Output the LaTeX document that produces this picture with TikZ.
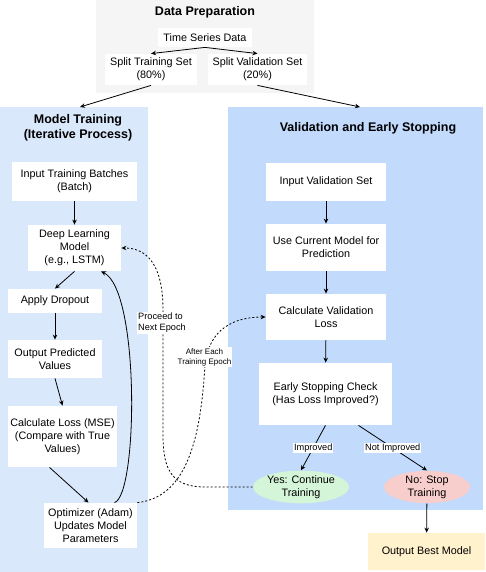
\documentclass[tikz,border=0pt]{standalone}
\usepackage{fontspec}
\setmainfont{Liberation Sans}
\usetikzlibrary{shapes.geometric,arrows.meta}

\definecolor{prepgray}{HTML}{F5F5F5}
\definecolor{trainblue}{HTML}{DAE8FC}
\definecolor{valblue}{HTML}{C2DAFC}
\definecolor{yesgreen}{HTML}{D5F5D8}
\definecolor{nored}{HTML}{F8CECC}
\definecolor{bestyellow}{HTML}{FFF2CC}

\begin{document}
\begin{tikzpicture}[x=1pt,y=-1pt,line width=0.8pt,
  >={Stealth[length=5pt,width=4.5pt]},
  box/.style={fill=white,align=center,inner sep=0pt,font=\fontsize{10.8}{13}\selectfont},
  oval/.style={ellipse,align=center,inner sep=0pt,font=\fontsize{10.8}{13}\selectfont},
  title/.style={align=center,font=\bfseries\fontsize{12.5}{15}\selectfont},
  elabel/.style={fill=white,inner sep=1pt,align=center,font=\fontsize{9.2}{11}\selectfont},
  loop/.style={->,dash pattern=on 2pt off 2pt}]
\useasboundingbox (0,0) rectangle (485,572);

\fill[prepgray] (96,0) rectangle (314,93);
\fill[trainblue] (0,107) rectangle (148,572);
\fill[valblue] (228,107) rectangle (483,510);

\node[title] (preptitle) at (205,12) {Data Preparation};
\node[title] (traintitle) at (78,127.5) {Model Training\\(Iterative Process)};
\node[title] (valtitle) at (368,128) {Validation and Early Stopping};

\node[box,minimum width=94,minimum height=19] (tsdata) at (205,37.5) {Time Series Data};
\node[box,minimum width=92,minimum height=31] (splittr) at (151,69.5) {Split Training Set\\(80\%)};
\node[box,minimum width=99,minimum height=31] (splitval) at (257.5,69.5) {Split Validation Set\\(20\%)};
\coordinate (traintop) at (80,107);
\coordinate (valtop) at (360,107);

\node[box,minimum width=125,minimum height=39] (batches) at (74.5,181.5) {Input Training Batches\\(Batch)};
\node[box,minimum width=93,minimum height=46] (dlmodel) at (74.5,248) {Deep Learning\\Model\\(e.g., LSTM)};
\node[box,minimum width=94,minimum height=24] (dropout) at (55,301) {Apply Dropout};
\node[box,minimum width=94,minimum height=38] (predict) at (55,359) {Output Predicted\\Values};
\node[box,minimum width=109,minimum height=61] (loss) at (62.5,436.5) {Calculate Loss (MSE)\\(Compare with True\\Values)};
\node[box,minimum width=93,minimum height=45] (optim) at (90.5,525.5) {Optimizer (Adam)\\Updates Model\\Parameters};

\node[box,minimum width=120,minimum height=38] (valset) at (326,182) {Input Validation Set};
\node[box,minimum width=120,minimum height=47] (usemodel) at (326,247.5) {Use Current Model for\\Prediction};
\node[box,minimum width=120,minimum height=46] (valloss) at (326,317) {Calculate Validation\\Loss};
\node[box,minimum width=133,minimum height=62] (check) at (325.5,394) {Early Stopping Check\\(Has Loss Improved?)};
\node[oval,fill=yesgreen,minimum width=82,minimum height=30] (yes) at (301,487) {Yes: Continue\\Training};
\node[oval,fill=nored,minimum width=86,minimum height=30] (no) at (427,487) {No: Stop\\Training};
\node[box,fill=bestyellow,minimum width=117,minimum height=37] (best) at (426.5,551.5) {Output Best Model};

\path[->] (tsdata.south) edge (splittr.north)
          (tsdata.south) edge (splitval.north)
          (splittr.south) edge (traintop)
          (splitval.south) edge (valtop);

\path[->] (batches) edge (dlmodel)
          (dlmodel.south) edge (dropout.north)
          (dropout) edge (predict)
          (predict.south) edge (loss.north)
          ([xshift=-13pt]loss.south) edge ([xshift=-2pt]optim.north);

\path[->] (valset) edge (usemodel)
          (usemodel) edge (valloss)
          (valloss) edge (check)
          (check.south) edge node[elabel] {Improved} (yes.north)
          ([xshift=33pt]check.south) edge node[elabel] {Not Improved} (no.north)
          (no) edge (best);

\draw[->] ([xshift=24pt]optim.north) .. controls (138,495) and (140,290) .. ([xshift=26.5pt]dlmodel.south);

\draw[loop] (yes.west) -- (205,487) .. controls (172,487) and (163,470) .. (163,435)
  -- (163,310) .. controls (163,262) and (145,248) .. (dlmodel.east);
\node[elabel,align=left] (proceed) at (162,323) {Proceed to\\Next Epoch};

\draw[loop] (optim.north east) .. controls (190,497) and (201,430) .. (205,365)
  .. controls (209,328) and (235,317) .. (valloss.west);
\node[elabel,font=\fontsize{8}{10}\selectfont] (after) at (204.5,357) {After Each\\Training Epoch};
\end{tikzpicture}
\end{document}
